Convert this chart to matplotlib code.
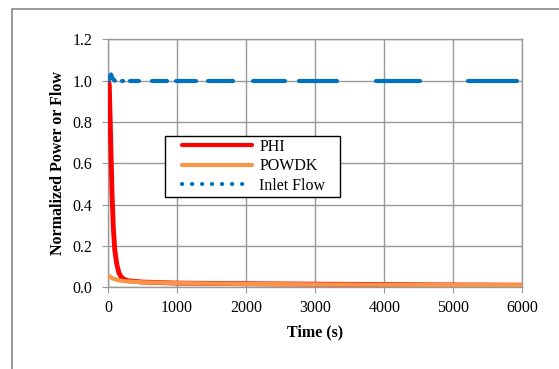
import matplotlib
matplotlib.use("Agg")
import matplotlib.pyplot as plt
from matplotlib.lines import Line2D
from matplotlib.patches import Rectangle
from matplotlib.legend_handler import HandlerLine2D

plt.rcParams['font.family'] = ['Liberation Serif', 'DejaVu Serif']

# PHI and POWDK
t_phi = [0, 20, 40, 60, 80, 100, 130, 160, 200, 250, 300, 500, 1000, 2000, 3000, 4000, 5000, 6000]
phi = [1.0, 0.98, 0.72, 0.45, 0.28, 0.18, 0.11, 0.07, 0.047, 0.037, 0.032, 0.026, 0.021, 0.018, 0.016, 0.014, 0.012, 0.011]

t_pow = [0, 20, 60, 100, 150, 200, 300, 500, 1000, 2000, 3000, 4000, 5000, 6000]
powdk = [0.055, 0.055, 0.045, 0.04, 0.035, 0.032, 0.029, 0.025, 0.021, 0.017, 0.015, 0.013, 0.012, 0.011]

# inlet flow: start spike, then clusters of samples at 1.0
t_spike = [0, 20, 45, 70, 100]
flow_spike = [1.0, 1.01, 1.03, 1.01, 1.0]
flow_clusters = [(210, 222), (320, 450), (645, 860), (980, 1275), (1445, 1815),
                 (2100, 2565), (2760, 3313), (3880, 4515), (5206, 5918)]
flow_level = 1.0

red = '#FF0000'
orange = '#F79646'
blue = '#0070C0'

fig = plt.figure(figsize=(5.59, 3.69), dpi=100)
ax = fig.add_axes([0.193, 0.221, 0.7417, 0.6725])

ax.plot(t_phi, phi, color=red, lw=3.5, solid_capstyle='butt', zorder=3)
ax.plot(t_pow, powdk, color=orange, lw=3.0, solid_capstyle='round', zorder=4)
ax.plot(t_spike, flow_spike, color=blue, lw=3.0, solid_capstyle='round', zorder=5)
for a, b in flow_clusters:
    ax.plot([a, b], [flow_level, flow_level], color=blue, lw=3.0,
            solid_capstyle='round', zorder=5)

ax.set_xlim(0, 6000)
ax.set_ylim(0, 1.2)
ax.set_xticks(range(0, 6001, 1000))
ax.set_yticks([0, 0.2, 0.4, 0.6, 0.8, 1.0, 1.2])
ax.set_yticklabels(['0.0', '0.2', '0.4', '0.6', '0.8', '1.0', '1.2'])
ax.grid(True, color='#999999', lw=1.0)
ax.set_axisbelow(True)
for s in ax.spines.values():
    s.set_color('#999999')
    s.set_linewidth(1.0)
ax.tick_params(axis='both', direction='out', length=4, color='#999999',
               labelsize=11.5)
ax.tick_params(axis='x', pad=5)
ax.tick_params(axis='y', pad=7)

ax.set_xlabel('Time (s)', fontsize=11.5, fontweight='bold', labelpad=6)
ax.set_ylabel('Normalized Power or Flow', fontsize=11.5, fontweight='bold', labelpad=5)

handles = [Line2D([], [], color=red, lw=3.0, solid_capstyle='round'),
           Line2D([], [], color=orange, lw=3.0, solid_capstyle='round'),
           Line2D([], [], color=blue, lw=3.0, linestyle=(0, (0.05, 2.35)),
                  dash_capstyle='round')]
hmap = {h: HandlerLine2D(xpad=0.94) for h in handles}
leg = ax.legend(handles, ['PHI', 'POWDK', 'Inlet Flow   '], handler_map=hmap,
                loc='upper left', bbox_to_anchor=(0.137, 0.610), fontsize=11.5,
                fancybox=False, framealpha=1, edgecolor='black',
                handlelength=5.32, borderpad=0.17, labelspacing=0.22,
                handletextpad=0.43, borderaxespad=0)
leg.get_frame().set_linewidth(1.0)

# outer chart frame
fig.patches.append(Rectangle((11.5 / 559, -0.1), 1.2, 1 - 9.5 / 369 + 0.1,
                             transform=fig.transFigure, fill=False,
                             edgecolor='#888888', lw=1.2))

fig.savefig('out.png', dpi=100)
